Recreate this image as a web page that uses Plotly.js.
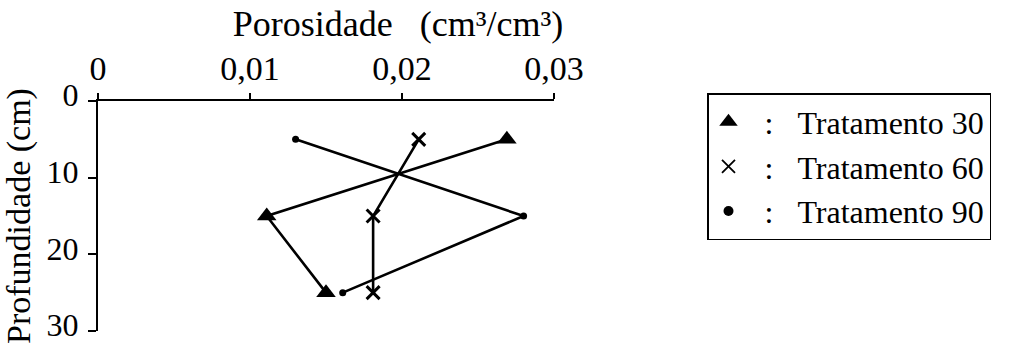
<!DOCTYPE html>
<html>
<head>
<meta charset="utf-8">
<script src="https://cdn.plot.ly/plotly-3.0.1.min.js"></script>
<style>html,body{margin:0;padding:0;background:#fff;}#chart{width:1012px;height:345px;}</style>
</head>
<body>
<div id="chart"></div>
<script>
// Data
const depth = [5, 15, 25];                       // Profundidade (cm)
const trat30 = [0.0269, 0.0111, 0.0150];         // Porosidade, Tratamento 30
const trat60 = [0.0211, 0.0181, 0.0181];         // Porosidade, Tratamento 60
const trat90 = [0.0130, 0.0280, 0.0161];         // Porosidade, Tratamento 90
const seriesNames = ['Tratamento 30', 'Tratamento 60', 'Tratamento 90'];
const xTickVals = [0, 0.01, 0.02, 0.03];
const xTickText = ['0', '0,01', '0,02', '0,03'];
const yTickVals = [0, 10, 20, 30];

const FONT = 'Liberation Serif, Times New Roman, serif';
const NB = '\u00a0';

const symbols = ['triangle-up', 'x-thin', 'circle'];
const sizes = [17, 13, 7];
const legendSizes = [18, 13, 10];
const seriesX = [trat30, trat60, trat90];

const traces = [];
seriesX.forEach((xs, i) => {
  traces.push({
    x: xs, y: depth, mode: 'lines+markers', type: 'scatter',
    showlegend: false,
    line: {color: '#000', width: 2.6},
    marker: {symbol: symbols[i], size: sizes[i], color: '#000', line: {color: '#000', width: i === 1 ? 3 : 0}},
    hoverinfo: 'x+y'
  });
});
// legend-only entries (marker + label)
seriesX.forEach((xs, i) => {
  traces.push({
    x: [null], y: [null], mode: 'markers', type: 'scatter',
    name: NB + NB + ':' + NB + NB + NB + seriesNames[i],
    marker: {symbol: symbols[i], size: legendSizes[i], color: '#000', line: {color: '#000', width: i === 1 ? 1.8 : 0}}
  });
});

const L = 98, R = 458, T = 101, B = 14;
const plotW = 1012 - L - R, plotH = 345 - T - B;

const layout = {
  width: 1012, height: 345,
  margin: {l: L, r: R, t: T, b: B, pad: 0},
  paper_bgcolor: '#fff', plot_bgcolor: '#fff',
  font: {family: FONT, size: 34, color: '#000'},
  title: {
    text: 'Porosidade' + NB + NB + NB + '(cm³/cm³)',
    font: {family: FONT, size: 36, color: '#000'},
    xref: 'container', yref: 'container',
    x: 398 / 1012, xanchor: 'center',
    y: 1 - 23 / 345, yanchor: 'middle'
  },
  xaxis: {
    side: 'top', range: [0, 0.03], tickvals: xTickVals, ticktext: xTickText,
    showgrid: false, zeroline: false, showline: true, linecolor: '#000', linewidth: 2,
    ticks: 'outside', ticklen: 6, tickwidth: 2, tickcolor: '#000',
    tickfont: {family: FONT, size: 34, color: '#000'}, ticklabelstandoff: -1,
    ticklabeloverflow: 'allow', fixedrange: true
  },
  yaxis: {
    range: [30, 0], tickvals: yTickVals, ticktext: yTickVals.map(String),
    showgrid: false, zeroline: false, showline: true, linecolor: '#000', linewidth: 2,
    ticks: 'outside', ticklen: 8, tickwidth: 2, tickcolor: '#000',
    tickfont: {family: FONT, size: 32, color: '#000'}, ticklabelstandoff: 3,
    ticklabelshift: 6, ticklabeloverflow: 'allow',
    title: {text: 'Profundidade (cm)', font: {family: FONT, size: 34, color: '#000'}, standoff: -2},
    automargin: false, fixedrange: true
  },
  showlegend: true,
  legend: {
    x: (707 - L) / plotW, xanchor: 'left',
    y: (345 - B - 93) / plotH, yanchor: 'top',
    bordercolor: '#000', borderwidth: 1.5, bgcolor: 'rgba(0,0,0,0)',
    font: {family: FONT, size: 32, color: '#000'},
    itemwidth: 30, tracegroupgap: 0
  }
};

Plotly.newPlot('chart', traces, layout, {displayModeBar: false, staticPlot: true});
</script>
</body>
</html>
